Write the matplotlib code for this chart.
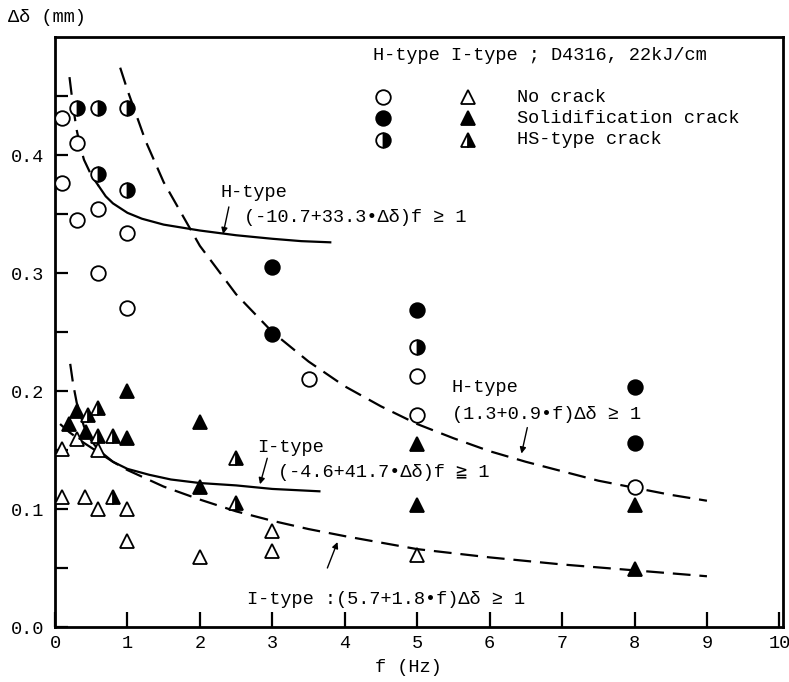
import matplotlib
matplotlib.use("Agg")
import matplotlib.pyplot as plt

plt.rcParams['font.family'] = ['Liberation Mono', 'DejaVu Sans Mono', 'DejaVu Sans']

# measured points, f (Hz) and delta (mm)
h_open_f = [0.1, 0.1, 0.3, 0.3, 0.6, 0.6, 1.0, 1.0, 3.5, 5.0, 5.0, 8.0]
h_open_d = [0.431, 0.376, 0.41, 0.345, 0.354, 0.30, 0.334, 0.27, 0.21, 0.213, 0.18, 0.119]
h_solid_f = [3.0, 3.0, 5.0, 8.0, 8.0]
h_solid_d = [0.305, 0.248, 0.269, 0.203, 0.156]
h_half_f = [0.3, 0.6, 1.0, 0.6, 1.0, 5.0]
h_half_d = [0.44, 0.44, 0.44, 0.384, 0.37, 0.237]

i_open_f = [0.1, 0.1, 0.3, 0.42, 0.6, 0.6, 1.0, 1.0, 2.0, 3.0, 3.0, 5.0]
i_open_d = [0.151, 0.110, 0.159, 0.110, 0.150, 0.100, 0.100, 0.073, 0.059, 0.081, 0.064, 0.061]
i_solid_f = [0.2, 0.3, 0.43, 1.0, 1.0, 2.0, 2.0, 5.0, 5.0, 8.0, 8.0]
i_solid_d = [0.172, 0.183, 0.165, 0.200, 0.160, 0.174, 0.119, 0.155, 0.103, 0.103, 0.049]
i_half_f = [0.45, 0.6, 0.6, 0.8, 0.8, 2.5, 2.5]
i_half_d = [0.180, 0.186, 0.162, 0.162, 0.110, 0.143, 0.105]

# curves
hs_f_dash = [0.2, 0.25, 0.3, 0.35, 0.4, 0.5, 0.6]
hs_d_dash = [0.466, 0.441, 0.421, 0.407, 0.396, 0.383, 0.374]
hs_f = [0.6, 0.7, 0.8, 1.0, 1.2, 1.5, 2.0, 2.5, 3.0, 3.4, 3.8]
hs_d = [0.374, 0.365, 0.359, 0.351, 0.346, 0.341, 0.336, 0.332, 0.329, 0.327, 0.326]

is_f_dash = [0.21, 0.25, 0.3, 0.4, 0.5]
is_d_dash = [0.223, 0.206, 0.190, 0.170, 0.158]
is_f = [0.5, 0.6, 0.8, 1.0, 1.3, 1.6, 2.0, 2.5, 3.0, 3.65]
is_d = [0.158, 0.150, 0.140, 0.134, 0.129, 0.125, 0.122, 0.120, 0.117, 0.115]

hd_f = [0.9, 1.0, 1.25, 1.5, 2.0, 2.5, 3.0, 3.5, 4.0, 4.5, 5.0, 5.5, 6.0, 6.5, 7.0, 7.5, 8.0, 8.5, 9.0]
hd_d = [0.474, 0.455, 0.412, 0.377, 0.323, 0.282, 0.250, 0.225, 0.204, 0.187, 0.172,
        0.160, 0.149, 0.140, 0.132, 0.124, 0.118, 0.112, 0.107]

id_f = [0.07, 0.2, 0.4, 0.6, 0.8, 1.0, 1.5, 2.0, 2.5, 3.0, 3.5, 4.0, 5.0, 6.0, 7.0, 8.0, 9.0]
id_d = [0.172, 0.165, 0.156, 0.148, 0.140, 0.133, 0.119, 0.108, 0.098, 0.090, 0.083,
        0.077, 0.066, 0.059, 0.053, 0.048, 0.043]

xtick_vals = [0, 1, 2, 3, 4, 5, 6, 7, 8, 9, 10]
ytick_vals = [0.0, 0.1, 0.2, 0.3, 0.4]

fig = plt.figure(figsize=(7.89, 6.82), dpi=100)
ax = fig.add_axes([55 / 789, 55 / 682, 728 / 789, 590 / 682])

dash = (0, (8, 4))
ax.plot(hs_f_dash, hs_d_dash, color='black', lw=1.6, linestyle=dash)
ax.plot(hs_f, hs_d, color='black', lw=1.6)
ax.plot(is_f_dash, is_d_dash, color='black', lw=1.6, linestyle=dash)
ax.plot(is_f, is_d, color='black', lw=1.6)
ax.plot(hd_f, hd_d, color='black', lw=1.6, linestyle=dash)
ax.plot(id_f, id_d, color='black', lw=1.6, linestyle=dash)

ms = 10.5
mk = dict(linestyle='none', markersize=ms, markeredgecolor='black', markeredgewidth=1.3, zorder=5)
half = dict(fillstyle='right', markerfacecolor='black', markerfacecoloralt='white')
ax.plot(h_open_f, h_open_d, marker='o', markerfacecolor='white', **mk)
ax.plot(h_solid_f, h_solid_d, marker='o', markerfacecolor='black', **mk)
ax.plot(h_half_f, h_half_d, marker='o', **half, **mk)
ax.plot(i_open_f, i_open_d, marker='^', markerfacecolor='white', **mk)
ax.plot(i_solid_f, i_solid_d, marker='^', markerfacecolor='black', **mk)
ax.plot(i_half_f, i_half_d, marker='^', **half, **mk)

# legend block
fs = 13.4
ax.text(4.39, 0.484, "H-type I-type ; D4316, 22kJ/cm", fontsize=fs, va='center')
rows = [0.449, 0.431, 0.413]
labels = ["No crack", "Solidification crack", "HS-type crack"]
ax.plot([4.53], [rows[0]], marker='o', markerfacecolor='white', **mk)
ax.plot([4.53], [rows[1]], marker='o', markerfacecolor='black', **mk)
ax.plot([4.53], [rows[2]], marker='o', **half, **mk)
ax.plot([5.70], [rows[0]], marker='^', markerfacecolor='white', **mk)
ax.plot([5.70], [rows[1]], marker='^', markerfacecolor='black', **mk)
ax.plot([5.70], [rows[2]], marker='^', **half, **mk)
for y, lab in zip(rows, labels):
    ax.text(6.38, y, lab, fontsize=fs, va='center')

arr = dict(arrowstyle='-|>', color='black', lw=1.0, mutation_scale=9, shrinkA=0, shrinkB=0)
ax.text(2.28, 0.368, "H-type", fontsize=fs, va='center')
ax.text(2.61, 0.347, "(-10.7+33.3•Δδ)f ≥ 1", fontsize=fs, va='center')
ax.annotate("", xy=(2.32, 0.333), xytext=(2.40, 0.356), arrowprops=arr)

ax.text(5.48, 0.203, "H-type", fontsize=fs, va='center')
ax.text(5.48, 0.180, "(1.3+0.9•f)Δδ ≥ 1", fontsize=fs, va='center')
ax.annotate("", xy=(6.44, 0.147), xytext=(6.52, 0.169), arrowprops=arr)

ax.text(2.79, 0.152, "I-type", fontsize=fs, va='center')
ax.text(3.08, 0.131, "(-4.6+41.7•Δδ)f ≧ 1", fontsize=fs, va='center')
ax.annotate("", xy=(2.83, 0.121), xytext=(2.93, 0.143), arrowprops=arr)

ax.text(2.65, 0.023, "I-type :(5.7+1.8•f)Δδ ≥ 1", fontsize=fs, va='center')
ax.annotate("", xy=(3.90, 0.072), xytext=(3.76, 0.050), arrowprops=arr)

ax.set_xlim(0, 10.05)
ax.set_ylim(0, 0.5)
ax.set_xticks(xtick_vals)
ax.set_xticklabels([str(v) for v in xtick_vals])
ax.set_yticks(ytick_vals)
ax.set_yticklabels([f"{v:.1f}" for v in ytick_vals])
ax.set_yticks([0.05, 0.15, 0.25, 0.35, 0.45], minor=True)
ax.tick_params(axis='both', which='both', direction='in', width=1.6, labelsize=fs)
ax.tick_params(axis='y', which='both', length=9, pad=8)
ax.tick_params(axis='x', which='major', length=11, pad=6)
for s in ax.spines.values():
    s.set_linewidth(2.0)

fig.text(8 / 789, 1 - 17 / 682, "Δδ (mm)", fontsize=fs, va='center')
fig.text(408 / 789, 1 - 668 / 682, "f (Hz)", fontsize=fs, va='center', ha='center')

fig.savefig("out.png", dpi=100)
